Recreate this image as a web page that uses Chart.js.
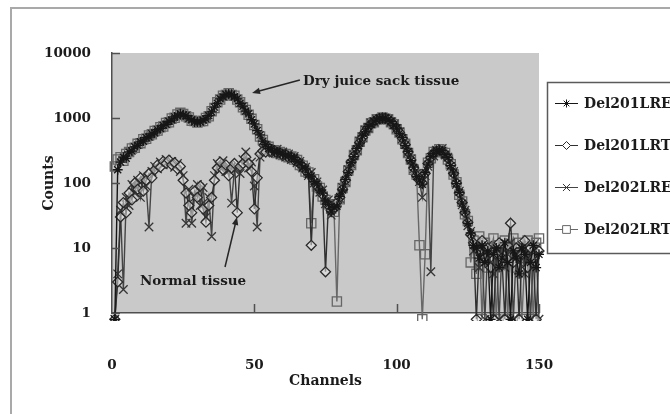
<!DOCTYPE html>
<html>
<head>
<meta charset="utf-8">
<script src="https://cdn.jsdelivr.net/npm/chart.js@4.4.1/dist/chart.umd.min.js"></script>
<style>
  html, body { margin: 0; padding: 0; background: #fff; }
  canvas { display: block; }
</style>
</head>
<body>
<canvas id="spectra" width="670" height="414"></canvas>
<script>
// Channel numbers of the spectra
const channels = [
  1,2,3,4,5,6,7,8,9,10,11,12,13,14,15,16,17,18,19,20,
  21,22,23,24,25,26,27,28,29,30,31,32,33,34,35,36,37,38,39,40,
  41,42,43,44,45,46,47,48,49,50,51,52,53,54,55,56,57,58,59,60,
  61,62,63,64,65,66,67,68,69,70,71,72,73,74,75,76,77,78,79,80,
  81,82,83,84,85,86,87,88,89,90,91,92,93,94,95,96,97,98,99,100,
  101,102,103,104,105,106,107,108,109,110,111,112,113,114,115,116,117,118,119,120,
  121,122,123,124,125,126,127,128,129,130,131,132,133,134,135,136,137,138,139,140,
  141,142,143,144,145,146,147,148,149,150,151
];

// Counts per channel (0.8 marks an empty channel, drawn just under the axis)
const del201LRE = [
  0.8,160,210,250,240,300,310,360,380,430,
  440,500,510,570,590,660,690,770,800,890,
  930,1040,1080,1160,1110,1090,980,940,870,870,
  870,930,970,1090,1240,1470,1680,1970,2120,2320,
  2330,2310,2120,1970,1680,1520,1280,1160,940,810,
  640,550,440,390,340,335,300,305,285,285,
  265,265,245,245,215,205,175,165,135,128,
  105,97,78,70,53,47,36,42,44,62,
  78,113,146,205,255,337,410,530,610,735,
  795,895,925,990,985,1000,935,890,775,700,
  580,500,380,305,220,175,126,112,96,145,
  195,255,285,315,315,315,275,245,185,143,
  98,72,49,36,24,17,11,10,7,11,
  6,9,0.8,8,10,5,7,12,6,0.8,
  9,7,4,10,8,0.8,6,11,5,8,
  3
];
const del201LRT = [
  0.8,3,30,50,35,70,55,100,80,120,
  75,110,140,120,160,190,175,215,200,225,
  190,205,165,180,110,70,45,35,75,60,
  90,40,25,45,60,110,170,210,160,190,
  130,170,200,35,180,200,250,200,150,40,
  120,280,310,300,350,300,315,290,290,265,
  275,245,250,225,220,195,180,155,140,11,
  108,90,80,66,4.3,45,38,40,50,60,
  80,110,150,210,260,335,420,500,625,720,
  810,880,950,980,1000,990,960,875,790,690,
  600,490,390,300,225,170,130,110,100,140,
  200,245,290,310,320,300,280,240,190,140,
  100,70,50,35,25,16,12,0.8,9,13,
  7,10,5,0.8,8,12,7,0.8,11,24,
  6,10,0.8,8,13,5,10,7,0.8,9,
  5
];
const del202LRE = [
  0.8,4,38,2.3,60,45,95,70,110,60,
  130,90,21,150,180,165,210,190,230,200,
  215,175,200,150,130,24,80,24,60,95,
  45,85,30,60,15,130,200,170,220,150,
  180,49,160,190,140,230,300,170,210,90,
  21,250,330,290,340,310,300,330,270,300,
  250,280,230,255,205,215,170,175,130,145,
  100,104,72,78,48,55,32,45,48,58,
  85,105,160,195,270,320,440,500,650,700,
  830,870,950,970,1010,980,960,860,790,690,
  610,480,390,295,235,165,140,105,60,130,
  180,4.3,260,320,300,340,270,250,180,150,
  95,75,46,38,22,18,9,12,5,8,
  0.8,11,6,4,9,0.8,10,5,8,12,
  0.8,9,6,11,4,9,0.8,7,10,0.8,
  8
];
const del202LRT = [
  180,230,250,220,280,300,340,350,400,410,
  470,480,540,560,630,640,720,740,840,860,
  980,1010,1130,1200,1150,1060,1020,910,900,850,
  890,900,1000,1060,1270,1420,1740,1920,2200,2260,
  2400,2260,2200,1920,1740,1460,1330,1120,970,780,
  670,520,460,370,360,320,320,290,300,270,
  280,250,255,230,225,190,185,150,145,24,
  114,88,84,62,55,47,40,36,1.5,56,
  84,104,156,190,270,320,430,505,640,700,
  830,860,960,960,1020,970,960,860,800,670,
  600,470,400,290,230,160,135,11,0.8,8,
  205,240,300,300,330,300,290,230,195,135,
  103,66,52,33,26,6,13,4,15,0.8,
  12,5,9,14,0.8,11,6,13,0.8,10,
  14,5,12,0.8,7,13,9,0.8,12,14,
  6
];

const seriesNames = ['Del201LRE', 'Del201LRT', 'Del202LRE', 'Del202LRT'];
const seriesValues = [del201LRE, del201LRT, del202LRE, del202LRT];
const countTicks = [1, 10, 100, 1000, 10000];
const channelTicks = [0, 50, 100, 150];

// Callout labels, anchored in data units (channel, counts)
const callouts = [
  { text: 'Dry juice sack tissue', at: [67.1, 3580], tail: [66, 3850], tip: [49.2, 2430] },
  { text: 'Normal tissue',         at: [9.8, 3.0],   tail: [39.7, 5.1], tip: [43.9, 30] }
];

const FONT = "'DejaVu Serif', 'Liberation Serif', serif";
const INK = '#1b1b1b';

const looks = [
  { pointStyle: 'star',     line: '#161616', edge: '#161616', fill: 'rgba(0,0,0,0)',         radius: 5   },
  { pointStyle: 'rectRot',  line: '#303030', edge: '#2a2a2a', fill: 'rgba(235,235,235,0.5)', radius: 5   },
  { pointStyle: 'crossRot', line: '#444444', edge: '#363636', fill: 'rgba(0,0,0,0)',         radius: 6   },
  { pointStyle: 'rect',     line: '#686868', edge: '#666666', fill: 'rgba(0,0,0,0)',         radius: 6.5 }
];

const datasets = seriesValues.map((vals, k) => ({
  label: seriesNames[k],
  data: vals.map((v, i) => ({ x: channels[i], y: v })),
  borderColor: looks[k].line,
  borderWidth: 1.4,
  pointStyle: looks[k].pointStyle,
  pointRadius: looks[k].radius,
  pointBorderColor: looks[k].edge,
  pointBackgroundColor: looks[k].fill,
  pointBorderWidth: 1.3,
  tension: 0,
  clip: 8
}));

// Page frame, grey plot area, inward tick marks, legend and callouts
const decorations = {
  id: 'decorations',
  beforeDraw(chart) {
    const { ctx, chartArea: a } = chart;
    ctx.save();
    ctx.fillStyle = '#ffffff';
    ctx.fillRect(0, 0, chart.width, chart.height);
    ctx.strokeStyle = '#a9a9a9';
    ctx.lineWidth = 2;
    ctx.strokeRect(11, 8, chart.width + 20, chart.height + 20);
    ctx.fillStyle = '#c9c9c9';
    ctx.fillRect(a.left, a.top, a.right - a.left, a.bottom - a.top);
    ctx.restore();
  },
  afterDraw(chart) {
    const { ctx, chartArea: a, scales } = chart;
    const xs = scales.x, ys = scales.y;
    ctx.save();

    // inward tick marks
    ctx.strokeStyle = '#505050';
    ctx.lineWidth = 1.5;
    ctx.beginPath();
    countTicks.forEach(v => {
      const y = Math.round(ys.getPixelForValue(v)) + 0.5;
      ctx.moveTo(a.left, y); ctx.lineTo(a.left + 8, y);
    });
    channelTicks.slice(1).forEach(v => {
      const x = Math.round(xs.getPixelForValue(v)) + 0.5;
      ctx.moveTo(x, a.bottom); ctx.lineTo(x, a.bottom - 9);
    });
    ctx.stroke();

    // legend
    const lx = 547.5, ly = 82.5;
    ctx.fillStyle = '#ffffff';
    ctx.fillRect(lx, ly, 200, 171);
    ctx.strokeStyle = '#5a5a5a';
    ctx.lineWidth = 1.5;
    ctx.strokeRect(lx, ly, 200, 171);
    ctx.font = `bold 14px ${FONT}`;
    ctx.textBaseline = 'middle';
    ctx.textAlign = 'left';
    chart.data.datasets.forEach((ds, k) => {
      const y = 103 + k * 42;
      ctx.strokeStyle = ds.borderColor;
      ctx.lineWidth = 1;
      ctx.beginPath();
      ctx.moveTo(555, y + 0.5); ctx.lineTo(578, y + 0.5);
      ctx.stroke();
      ctx.strokeStyle = ds.pointBorderColor;
      ctx.fillStyle = '#ffffff';
      Chart.helpers.drawPoint(ctx, {
        pointStyle: ds.pointStyle, radius: ds.pointRadius - 1, rotation: 0, borderWidth: 1
      }, 566.5, y + 0.5);
      ctx.fillStyle = INK;
      ctx.fillText(ds.label, 584, y + 1);
    });

    // callouts with arrows
    ctx.font = `bold 13.5px ${FONT}`;
    ctx.fillStyle = INK;
    ctx.strokeStyle = '#262626';
    callouts.forEach(c => {
      ctx.fillText(c.text, xs.getPixelForValue(c.at[0]), ys.getPixelForValue(c.at[1]));
      const x0 = xs.getPixelForValue(c.tail[0]), y0 = ys.getPixelForValue(c.tail[1]);
      const x1 = xs.getPixelForValue(c.tip[0]),  y1 = ys.getPixelForValue(c.tip[1]);
      const ang = Math.atan2(y1 - y0, x1 - x0);
      const head = 8, half = 3.2;
      ctx.lineWidth = 1.5;
      ctx.beginPath();
      ctx.moveTo(x0, y0);
      ctx.lineTo(x1 - Math.cos(ang) * head * 0.8, y1 - Math.sin(ang) * head * 0.8);
      ctx.stroke();
      ctx.beginPath();
      ctx.moveTo(x1, y1);
      ctx.lineTo(x1 - Math.cos(ang) * head - Math.sin(ang) * half, y1 - Math.sin(ang) * head + Math.cos(ang) * half);
      ctx.lineTo(x1 - Math.cos(ang) * head + Math.sin(ang) * half, y1 - Math.sin(ang) * head - Math.cos(ang) * half);
      ctx.closePath();
      ctx.fillStyle = '#262626';
      ctx.fill();
      ctx.fillStyle = INK;
    });
    ctx.restore();
  }
};

new Chart(document.getElementById('spectra'), {
  type: 'line',
  data: { datasets },
  options: {
    responsive: false,
    animation: false,
    devicePixelRatio: 1,
    layout: { padding: { left: 0, top: 53, right: 131, bottom: 0 } },
    plugins: { legend: { display: false }, tooltip: { enabled: false } },
    scales: {
      x: {
        type: 'linear',
        min: 0,
        max: 150,
        afterBuildTicks: s => { s.ticks = channelTicks.map(v => ({ value: v })); },
        afterFit: s => { s.height = 101; },
        grid: { display: false },
        border: { display: true, color: '#4f4f4f', width: 1.5 },
        ticks: { padding: 36, color: INK, font: { family: FONT, size: 13.5, weight: 'bold' } },
        title: {
          display: true, text: 'Channels', color: INK,
          padding: { top: 0, bottom: 24 },
          font: { family: FONT, size: 14, weight: 'bold' }
        }
      },
      y: {
        type: 'logarithmic',
        min: 1,
        max: 10000,
        afterBuildTicks: s => { s.ticks = countTicks.map(v => ({ value: v })); },
        afterFit: s => { s.width = 112; },
        grid: { display: false },
        border: { display: true, color: '#4f4f4f', width: 1.5 },
        ticks: { padding: 13, color: INK, callback: v => String(v), font: { family: FONT, size: 13.5, weight: 'bold' } },
        title: {
          display: true, text: 'Counts', color: INK,
          padding: { top: 41, bottom: 0 },
          font: { family: FONT, size: 14, weight: 'bold' }
        }
      }
    }
  },
  plugins: [decorations]
});
</script>
</body>
</html>
